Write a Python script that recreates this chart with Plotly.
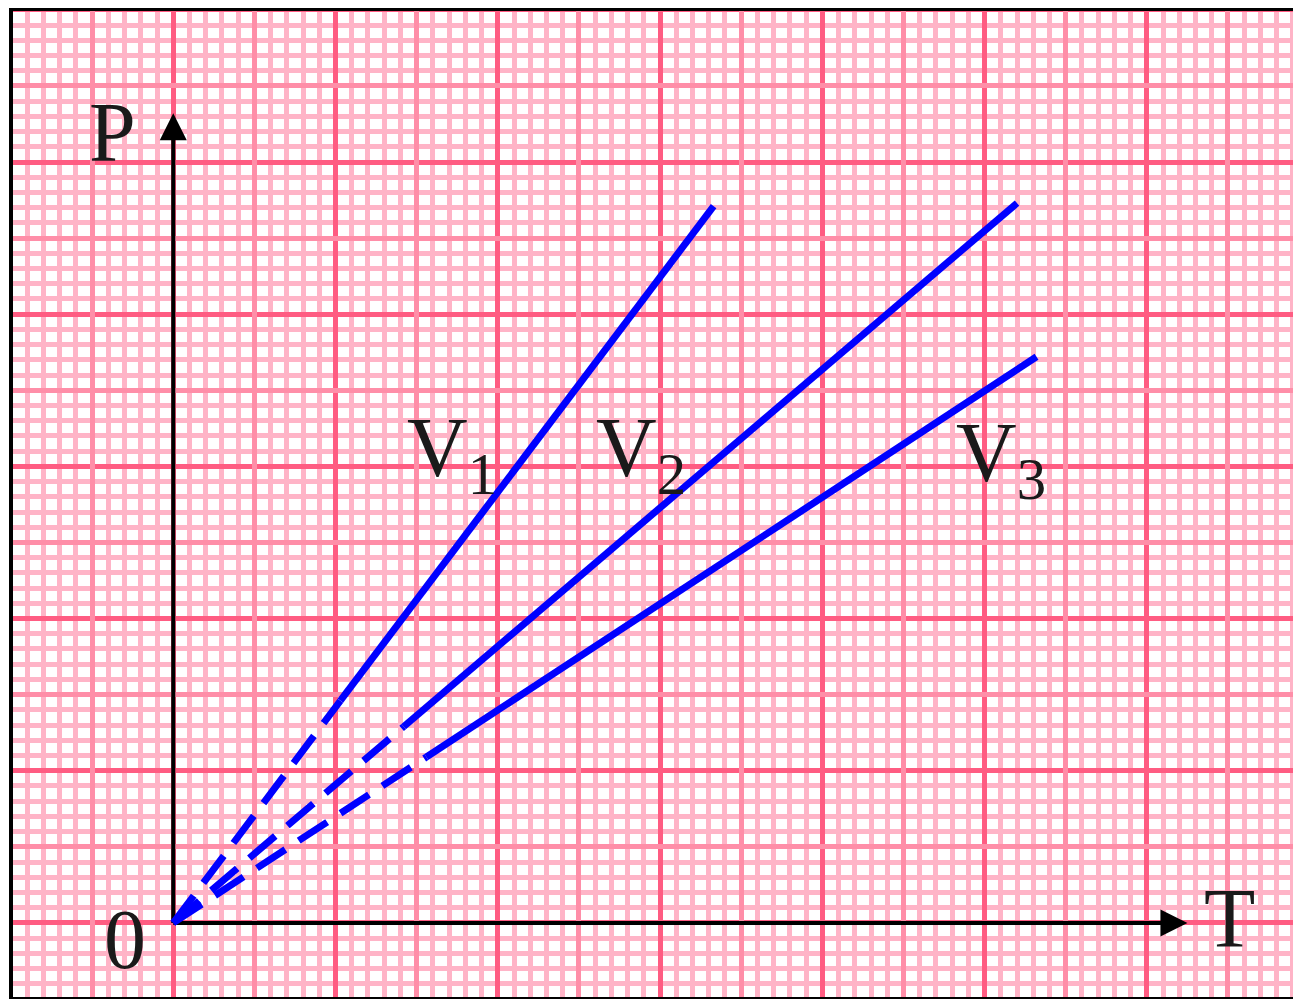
import plotly.graph_objects as go

# ---- data (grid units: 1 unit = one small square; origin at the axes crossing) ----
V1_T = [0, 10.3, 33.3]
V1_P = [0, 14.6, 47.1]
V2_T = [0, 14.2, 52.0]
V2_P = [0, 12.9, 47.3]
V3_T = [0, 15.6, 53.2]
V3_P = [0, 10.9, 37.2]

series_labels = ["V<sub>1</sub>", "V<sub>2</sub>", "V<sub>3</sub>"]
label_T = [17.2, 28.8, 51.0]
label_P = [30.8, 30.8, 30.5]

axis_labels = ["P", "T", "0"]
axis_label_T = [-3.76, 65.1, -2.96]
axis_label_P = [51.97, 0.26, -1.12]

T_axis_end = 62.5
P_axis_end = 53.2

X_RANGE = [-10, 69.5]
Y_RANGE = [-5, 60.12]

LIGHT = "#ffb4c7"
MED = "#ff8ea8"
STRONG = "#ff5c82"
BLUE = "#0000ff"
INK = "#1a1a1a"
FONT = "Liberation Serif"

fig = go.Figure()

# axes with arrows
fig.add_trace(go.Scatter(x=[0, 0], y=[0, P_axis_end - 1.5], mode="lines",
                         line=dict(color="black", width=4), hoverinfo="skip"))
fig.add_trace(go.Scatter(x=[0, T_axis_end - 1.5], y=[0, 0], mode="lines",
                         line=dict(color="black", width=4), hoverinfo="skip"))
fig.add_trace(go.Scatter(x=[0], y=[P_axis_end], mode="markers",
                         marker=dict(symbol="arrow-up", size=27, color="black",
                                     line=dict(width=0)), hoverinfo="skip"))
fig.add_trace(go.Scatter(x=[T_axis_end], y=[0], mode="markers",
                         marker=dict(symbol="arrow-right", size=27, color="black",
                                     line=dict(width=0)), hoverinfo="skip"))

# isochores: dashed extrapolation to the origin, solid measured part
for T, P in [(V1_T, V1_P), (V2_T, V2_P), (V3_T, V3_P)]:
    fig.add_trace(go.Scatter(x=T[:2], y=P[:2], mode="lines",
                             line=dict(color=BLUE, width=7, dash="34px,16px"),
                             hoverinfo="skip"))
    fig.add_trace(go.Scatter(x=T[1:], y=P[1:], mode="lines",
                             line=dict(color=BLUE, width=7), hoverinfo="skip"))

# dummy trace so the overlay axes (medium grid lines) are drawn
fig.add_trace(go.Scatter(x=[0], y=[0], xaxis="x2", yaxis="y2", mode="markers",
                         marker=dict(opacity=0), hoverinfo="skip"))

for txt, x, y in zip(series_labels, label_T, label_P):
    fig.add_annotation(x=x, y=y, text=txt, showarrow=False, xanchor="center",
                       yanchor="middle", font=dict(family=FONT, size=84, color=INK))
for txt, x, y in zip(axis_labels, axis_label_T, axis_label_P):
    fig.add_annotation(x=x, y=y, text=txt, showarrow=False, xanchor="center",
                       yanchor="middle", font=dict(family=FONT, size=84, color=INK))

common = dict(showticklabels=False, ticks="", zeroline=False, showline=False,
              fixedrange=True)
# the page body adds an 8px margin, so the figure is 8px smaller than the window
fig.update_layout(
    width=1293, height=991,
    margin=dict(l=3, r=0, t=0, b=0),
    paper_bgcolor="white", plot_bgcolor="white",
    showlegend=False,
    xaxis=dict(range=X_RANGE, tick0=0, dtick=10, showgrid=True,
               gridcolor=STRONG, gridwidth=5,
               minor=dict(tick0=0, dtick=1, showgrid=True, gridcolor=LIGHT,
                          gridwidth=5, ticks=""), **common),
    yaxis=dict(range=Y_RANGE, tick0=0, dtick=10, showgrid=True,
               gridcolor=STRONG, gridwidth=5,
               minor=dict(tick0=0, dtick=1, showgrid=True, gridcolor=LIGHT,
                          gridwidth=5, ticks=""), **common),
    xaxis2=dict(range=X_RANGE, overlaying="x", anchor="y2", tick0=5, dtick=10,
                showgrid=True, gridcolor=MED, gridwidth=5, **common),
    yaxis2=dict(range=Y_RANGE, overlaying="y", anchor="x2", tick0=5, dtick=10,
                showgrid=True, gridcolor=MED, gridwidth=5, **common),
)

# black frame (left, top, bottom)
fig.add_shape(type="line", xref="paper", yref="paper", x0=0, x1=0, y0=0, y1=1,
              line=dict(color="black", width=4))
fig.add_shape(type="line", xref="paper", yref="paper", x0=0, x1=1, y0=1, y1=1,
              line=dict(color="black", width=6))
fig.add_shape(type="line", xref="paper", yref="paper", x0=0, x1=1, y0=0, y1=0,
              line=dict(color="black", width=4))

fig.write_html("out.html")
